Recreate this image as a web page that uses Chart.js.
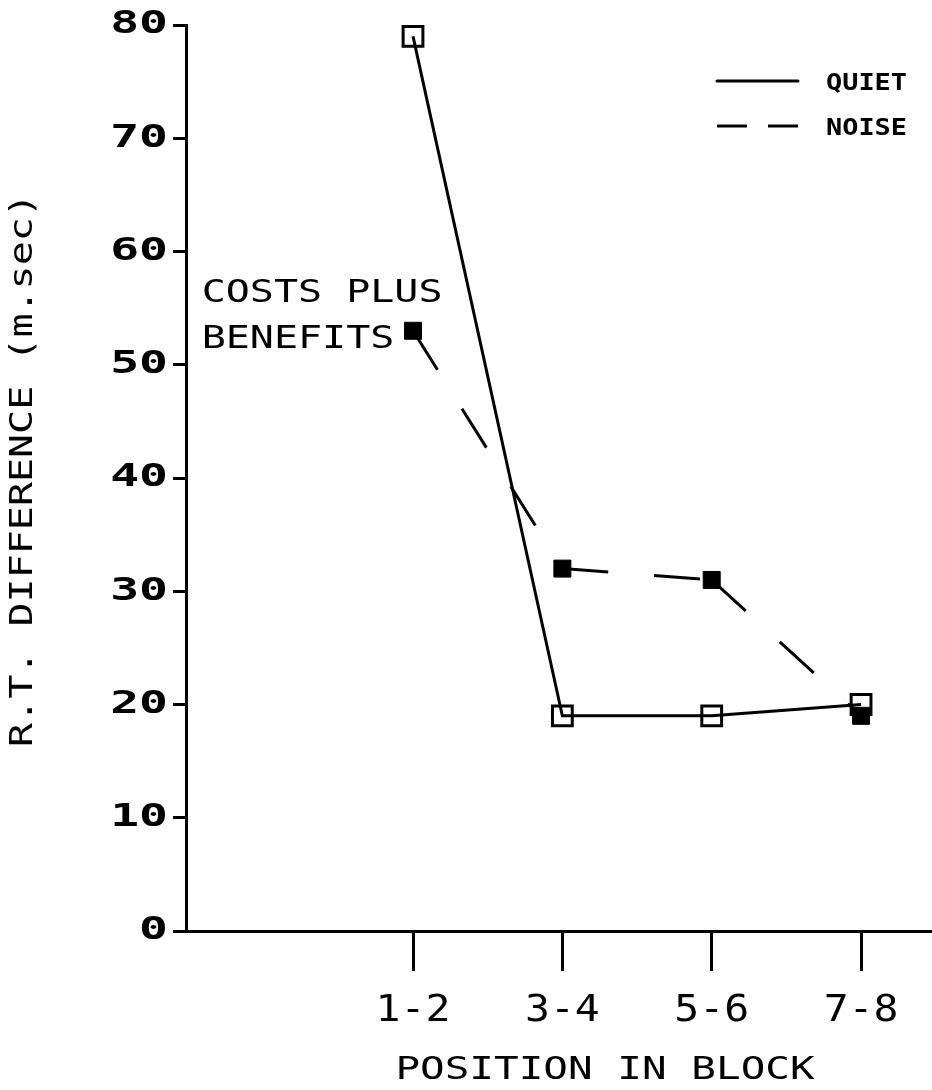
<!DOCTYPE html>
<html><head><meta charset="utf-8">
<script src="https://cdn.jsdelivr.net/npm/chart.js@4/dist/chart.umd.min.js"></script>
<style>html,body{margin:0;padding:0;background:#fff;}canvas{display:block;}</style>
</head><body>
<canvas id="c" width="932" height="1090"></canvas>
<script>
const categories = ['1-2', '3-4', '5-6', '7-8'];
const categoryPositions = [1, 2, 3, 4];
const quietValues = [79, 19, 19, 20];
const noiseValues = [53, 32, 31, 19];
const yTickValues = [0, 10, 20, 30, 40, 50, 60, 70, 80];
const seriesNames = ['QUIET', 'NOISE'];
const xTitle = 'POSITION IN BLOCK';
const yTitle = 'R.T. DIFFERENCE (m.sec)';
const noteLines = ['COSTS PLUS', 'BENEFITS'];

const FONT = "'DejaVu Sans Mono', monospace";

function stretchLabels(scale, sx) {
  scale.drawLabels = function (chartArea) {
    const ctx = this.ctx;
    const items = this.getLabelItems(chartArea);
    for (const item of items) {
      const o = item.options;
      ctx.save();
      ctx.translate(o.translation[0], o.translation[1]);
      ctx.scale(sx, 1);
      ctx.font = item.font.string;
      ctx.fillStyle = o.color;
      ctx.textAlign = o.textAlign;
      ctx.textBaseline = o.textBaseline;
      ctx.fillText(String(item.label), 0, item.textOffset);
      ctx.restore();
    }
  };
}
function stretchTitle(scale, horizontal, s, dx, dy) {
  const orig = Chart.Scale.prototype.drawTitle;
  scale.drawTitle = function () {
    const ctx = this.ctx;
    const cx = (this.left + this.right) / 2;
    const cy = (this.top + this.bottom) / 2;
    ctx.save();
    ctx.translate(dx, dy);
    if (horizontal) { ctx.translate(cx, 0); ctx.scale(s, 1); ctx.translate(-cx, 0); }
    else { ctx.translate(0, cy); ctx.scale(1, s); ctx.translate(0, -cy); }
    orig.call(this);
    ctx.restore();
  };
}
function stretchedText(ctx, text, x, y, sx, font, align) {
  ctx.save();
  ctx.font = font;
  ctx.fillStyle = '#000';
  ctx.textAlign = align || 'left';
  ctx.textBaseline = 'alphabetic';
  ctx.translate(x, y);
  ctx.scale(sx, 1);
  ctx.fillText(text, 0, 0);
  ctx.restore();
}

const overridePlugin = {
  id: 'overrides',
  beforeDraw(chart) {
    const xs = chart.scales.x, ys = chart.scales.y;
    if (!xs._patched) { stretchLabels(xs, 1.12); stretchTitle(xs, true, 1.28, 46, 0); xs._patched = true; }
    if (!ys._patched) { stretchLabels(ys, 1.5); stretchTitle(ys, false, 1.25, 0, -8); ys._patched = true; }
  },
  afterDraw(chart) {
    const ctx = chart.ctx;
    const xs = chart.scales.x, ys = chart.scales.y;
    // note
    const noteX = xs.getPixelForValue(-0.415);
    stretchedText(ctx, noteLines[0], noteX, ys.getPixelForValue(55.5), 1.25, "32px " + FONT);
    stretchedText(ctx, noteLines[1], noteX, ys.getPixelForValue(51.5), 1.25, "32px " + FONT);
    // legend
    const lx0 = 717, lx1 = 798, tx = 826;
    const rows = [81, 126];
    ctx.save();
    ctx.strokeStyle = '#000';
    ctx.lineWidth = 3;
    ctx.lineCap = 'round';
    ctx.beginPath(); ctx.moveTo(lx0, rows[0]); ctx.lineTo(lx1, rows[0]); ctx.stroke();
    ctx.setLineDash([30, 21]);
    ctx.lineCap = 'butt';
    ctx.beginPath(); ctx.moveTo(lx0, rows[1]); ctx.lineTo(lx1, rows[1]); ctx.stroke();
    ctx.restore();
    stretchedText(ctx, seriesNames[0], tx, rows[0] + 8.5, 1.17, "bold 23px " + FONT);
    stretchedText(ctx, seriesNames[1], tx, rows[1] + 8.5, 1.17, "bold 23px " + FONT);
  }
};

new Chart(document.getElementById('c'), {
  type: 'line',
  data: {
    datasets: [
      {
        label: seriesNames[1],
        order: 0,
        data: categoryPositions.map((x, i) => ({ x, y: noiseValues[i] })),
        borderColor: '#000',
        borderWidth: 3,
        borderDash: [46, 46],
        segment: { borderDashOffset: c => c.p0DataIndex * 0.0001 },
        pointStyle: 'rect',
        pointRadius: 12,
        pointBorderWidth: 1,
        pointBackgroundColor: '#000',
        pointBorderColor: '#000',
        tension: 0
      },
      {
        label: seriesNames[0],
        order: 1,
        data: categoryPositions.map((x, i) => ({ x, y: quietValues[i] })),
        borderColor: '#000',
        borderWidth: 3,
        pointStyle: 'rect',
        pointRadius: 14,
        pointBorderWidth: 3,
        pointBackgroundColor: 'rgba(0,0,0,0)',
        pointBorderColor: '#000',
        tension: 0
      }
    ]
  },
  options: {
    responsive: false,
    animation: false,
    devicePixelRatio: 1,
    layout: { autoPadding: false, padding: { top: 25, right: 0, bottom: 0, left: 0 } },
    plugins: { legend: { display: false }, tooltip: { enabled: false } },
    scales: {
      x: {
        type: 'linear',
        min: -0.52,
        max: 4.475,
        afterBuildTicks: s => { s.ticks = categoryPositions.map(v => ({ value: v })); },
        afterFit: s => { s.height = 159; s.paddingLeft = 0; s.paddingRight = 0; },
        ticks: {
          callback: v => { const i = categoryPositions.indexOf(v); return i >= 0 ? categories[i] : ''; },
          autoSkip: false, maxRotation: 0, color: '#000',
          font: { family: FONT, size: 37 }, padding: 18
        },
        grid: { drawOnChartArea: false, drawTicks: true, tickLength: 40, lineWidth: 3, color: '#000' },
        border: { display: true, color: '#000', width: 3 },
        title: { display: true, text: xTitle, color: '#000', font: { family: FONT, size: 32 }, padding: { top: 0, bottom: 0 } }
      },
      y: {
        type: 'linear',
        min: 0,
        max: 80,
        afterBuildTicks: s => { s.ticks = yTickValues.map(v => ({ value: v })); },
        afterFit: s => { s.width = 186; },
        ticks: { color: '#000', font: { family: FONT, size: 32, weight: 'bold' }, padding: 5 },
        grid: { drawOnChartArea: false, drawTicks: true, tickLength: 13, lineWidth: 3, color: '#000' },
        border: { display: true, color: '#000', width: 3 },
        title: { display: true, text: yTitle, color: '#000', font: { family: FONT, size: 32 }, padding: { top: 4, bottom: 0 } }
      }
    }
  },
  plugins: [overridePlugin]
});
</script>
</body></html>
